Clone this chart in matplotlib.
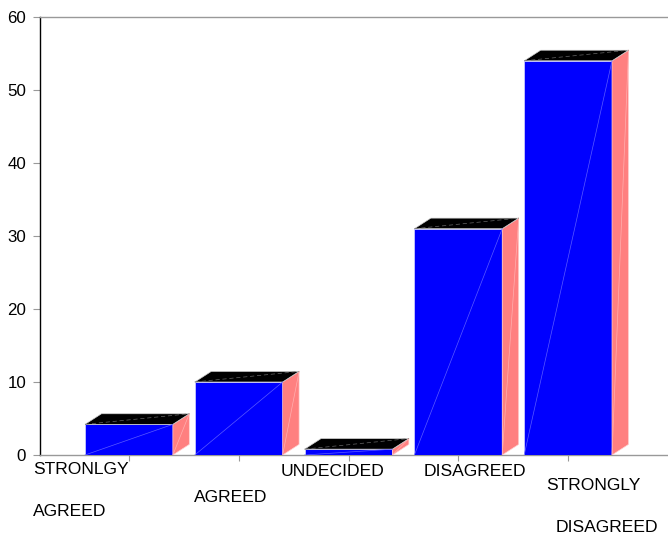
import matplotlib
matplotlib.use("Agg")
import matplotlib.pyplot as plt
from matplotlib.patches import Polygon

plt.rcParams['font.family'] = ['Liberation Sans', 'DejaVu Sans']

categories = ["STRONLGY AGREED", "AGREED", "UNDECIDED", "DISAGREED", "STRONGLY DISAGREED"]
values = [4.2, 10.0, 0.8, 31.0, 54.0]
y_ticks = [0, 10, 20, 30, 40, 50, 60]

FRONT = "#0000FF"
SIDE = "#FF8080"
TOP = "#000000"
BAR_W = 0.80
DEPTH_X = 0.15
DEPTH_Y = 1.45

fig = plt.figure(figsize=(6.68, 5.40), dpi=100)
ax = fig.add_axes([40 / 668, 85 / 540, 628 / 668, 438 / 540])
ax.set_xlim(-0.81, 4.91)
ax.set_ylim(0, 60)

for i, v in enumerate(values):
    x0, x1 = i - BAR_W / 2, i + BAR_W / 2
    # front face
    ax.add_patch(Polygon([(x0, 0), (x1, 0), (x1, v), (x0, v)], closed=True,
                         facecolor=FRONT, edgecolor="#c8c8ff", lw=0.6, zorder=3))
    ax.plot([x0, x1], [0, v], color="#5a5aff", lw=0.5, zorder=4)
    # side face
    ax.add_patch(Polygon([(x1, 0), (x1 + DEPTH_X, DEPTH_Y), (x1 + DEPTH_X, v + DEPTH_Y), (x1, v)],
                         closed=True, facecolor=SIDE, edgecolor="#ffd0d0", lw=0.5, zorder=3))
    ax.plot([x1, x1 + DEPTH_X], [0, v + DEPTH_Y], color="#ffb0b0", lw=0.5, zorder=4)
    # top face
    ax.add_patch(Polygon([(x0, v), (x1, v), (x1 + DEPTH_X, v + DEPTH_Y), (x0 + DEPTH_X, v + DEPTH_Y)],
                         closed=True, facecolor=TOP, edgecolor="#d0d0d0", lw=0.5, zorder=3))
    ax.plot([x0, x1 + DEPTH_X], [v, v + DEPTH_Y], color="#666666", lw=0.5,
            linestyle=(0, (6, 4)), zorder=4)

ax.set_yticks(y_ticks)
ax.set_xticks(range(len(categories)))
ax.set_xticklabels([])
ax.tick_params(axis="y", colors="#999999", labelcolor="black", length=5, width=0.8,
               labelsize=12.2, pad=5)
ax.tick_params(axis="x", colors="#999999", length=4, width=0.8)

ax.spines["left"].set_color("black")
ax.spines["left"].set_linewidth(1.0)
for s in ("top", "bottom"):
    ax.spines[s].set_color("#999999")
    ax.spines[s].set_linewidth(1.0)
ax.spines["right"].set_visible(False)

# staggered category labels: (category index, line text, x offset px, y px below axis, alignment)
label_lines = [
    (0, "STRONLGY", -96, 15, "left"),
    (0, "AGREED", -96, 56, "left"),
    (1, "AGREED", -8, 43, "center"),
    (2, "UNDECIDED", -16, 16, "center"),
    (3, "DISAGREED", 17, 17, "center"),
    (4, "STRONGLY", 25, 31, "center"),
    (4, "DISAGREED", 39, 72, "center"),
]
for idx, txt, dx, dy, ha in label_lines:
    ax.annotate(txt, xy=(idx, 0), xycoords=("data", "axes fraction"),
                xytext=(dx * 0.72, -dy * 0.72), textcoords="offset points",
                ha=ha, va="center", fontsize=12.6, color="black", annotation_clip=False)

fig.savefig("out.png", dpi=100)
